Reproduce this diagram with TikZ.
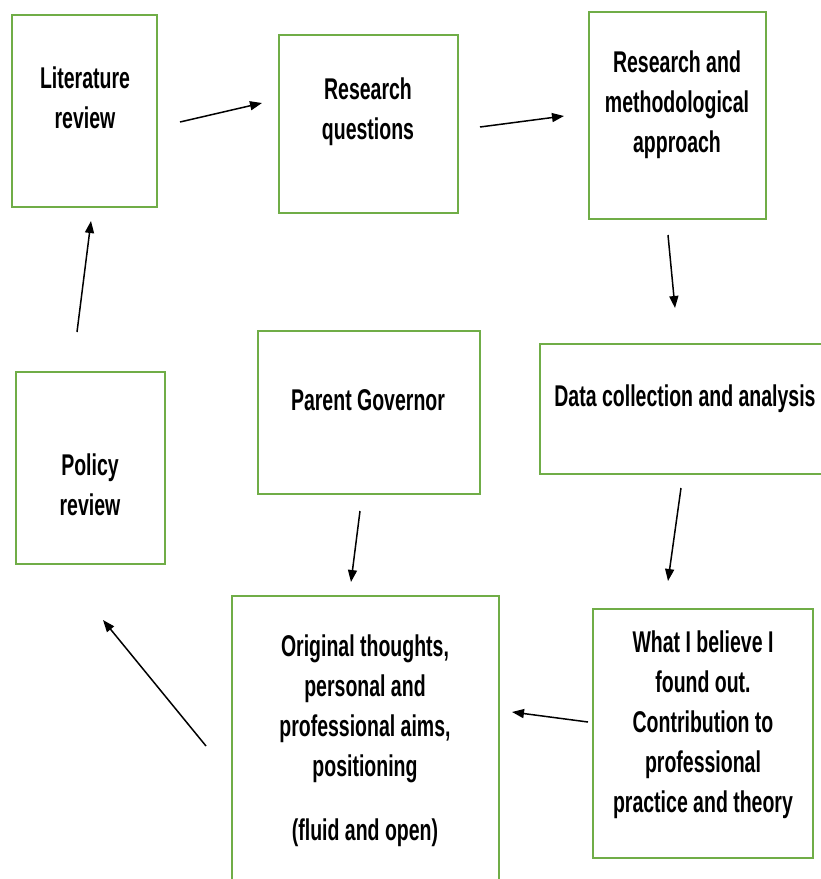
\documentclass[tikz,border=0pt]{standalone}
\usepackage{fontspec}
\setmainfont{Liberation Sans}[FakeStretch=0.65]
\usetikzlibrary{arrows.meta}
\definecolor{boxgreen}{RGB}{112,173,71}
\tikzset{
  box/.style={draw=boxgreen, line width=1.8pt, inner sep=0pt},
  txt/.style={align=center, font=\fontsize{30}{40}\selectfont\bfseries, inner sep=0pt},
  arr/.style={draw=black, line width=1.5pt, -{Triangle[length=12pt,width=9pt]}}
}
\begin{document}
\begin{tikzpicture}[x=1pt,y=-1pt]
\useasboundingbox (0,0) rectangle (821,879);
% boxes
\node[box, minimum width=145pt, minimum height=192pt] (lit) at (84.5,111) {};
\node[box, minimum width=179pt, minimum height=178pt] (rq) at (368.5,124) {};
\node[box, minimum width=177pt, minimum height=207pt] (rma) at (677.5,115.5) {};
\node[box, minimum width=284pt, minimum height=130pt] (data) at (682,409) {};
\node[box, minimum width=222pt, minimum height=163pt] (gov) at (369,412.5) {};
\node[box, minimum width=149pt, minimum height=192pt] (pol) at (90.5,468) {};
\node[box, minimum width=267pt, minimum height=290pt] (orig) at (365.5,741) {};
\node[box, minimum width=220pt, minimum height=249pt] (what) at (703,733.5) {};
% texts
\node[txt] (litT) at (85,98) {Literature\\review};
\node[txt] (rqT) at (368,112) {Research\\questions};
\node[txt] (rmaT) at (677,105) {Research and\\methodological\\approach};
\node[txt] (dataT) at (685,399) {Data collection and analysis};
\node[txt] (govT) at (368,400) {Parent Governor};
\node[txt] (polT) at (90,485) {Policy\\review};
\node[txt] (origT) at (365,741) {Original thoughts,\\personal and\\professional aims,\\positioning\\[24pt](fluid and open)};
\node[txt] (whatT) at (703,725) {What I believe I\\found out.\\Contribution to\\professional\\practice and theory};
% arrow end points
\coordinate (a1s) at (180,122); \coordinate (a1e) at (262,103);
\coordinate (a2s) at (480,127); \coordinate (a2e) at (564,116);
\coordinate (a3s) at (668,235); \coordinate (a3e) at (675,308);
\coordinate (a4s) at (681,488); \coordinate (a4e) at (668,581);
\coordinate (a5s) at (588,722); \coordinate (a5e) at (512,712);
\coordinate (a6s) at (360,511); \coordinate (a6e) at (351,582);
\coordinate (a7s) at (206,746); \coordinate (a7e) at (103,620);
\coordinate (a8s) at (77,332); \coordinate (a8e) at (91,221);
\draw[arr] (a1s) -- (a1e);
\draw[arr] (a2s) -- (a2e);
\draw[arr] (a3s) -- (a3e);
\draw[arr] (a4s) -- (a4e);
\draw[arr] (a5s) -- (a5e);
\draw[arr] (a6s) -- (a6e);
\draw[arr] (a7s) -- (a7e);
\draw[arr] (a8s) -- (a8e);
\end{tikzpicture}
\end{document}
